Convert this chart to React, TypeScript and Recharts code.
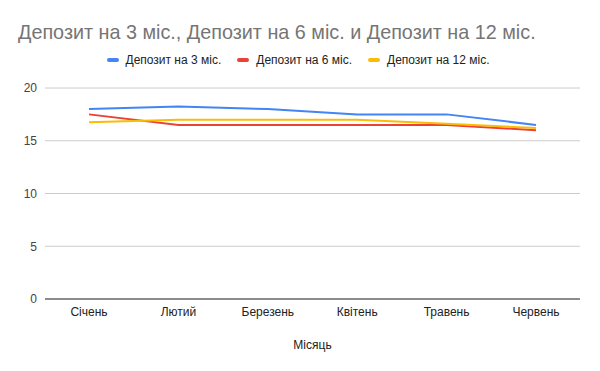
import React from "react";
import { LineChart, Line, XAxis, YAxis, CartesianGrid } from "recharts";

const months = ["Січень", "Лютий", "Березень", "Квітень", "Травень", "Червень"];
const dep3 = [18.0, 18.25, 18.0, 17.5, 17.5, 16.5];
const dep6 = [17.5, 16.5, 16.5, 16.5, 16.5, 16.0];
const dep12 = [16.75, 17.0, 17.0, 17.0, 16.6, 16.2];
const yTicks = [0, 5, 10, 15, 20];

const seriesNames = ["Депозит на 3 міс.", "Депозит на 6 міс.", "Депозит на 12 міс."];
const colors = ["#4285F4", "#EA4335", "#FBBC04"];
const keys = ["d3", "d6", "d12"];

const data = months.map((m, i) => ({ month: m, d3: dep3[i], d6: dep6[i], d12: dep12[i] }));

const FONT = "'Liberation Sans', Arial, sans-serif";

const LegendBox = () => (
  <div style={{ position: "absolute", top: 53, left: 0, width: 600, display: "flex", justifyContent: "center", alignItems: "center", fontFamily: FONT, fontSize: 12, color: "#222", paddingRight: 4, boxSizing: "border-box" }}>
    {seriesNames.map((n, i) => (
      <div key={n} style={{ display: "flex", alignItems: "center", marginRight: i < 2 ? 16 : 0 }}>
        <span style={{ display: "inline-block", width: 12, height: 4, borderRadius: 2, background: colors[i], marginRight: 7 }} />
        <span>{n}</span>
      </div>
    ))}
  </div>
);

export default function App() {
  return (
    <div style={{ position: "absolute", left: 0, top: 0, width: 600, height: 371, background: "#fff" }}>
      <div style={{ position: "absolute", left: 18, top: 21, fontFamily: FONT, fontSize: 19.8, color: "#757575", whiteSpace: "nowrap" }}>
        Депозит на 3 міс., Депозит на 6 міс. и Депозит на 12 міс.
      </div>
      <LegendBox />
      <div style={{ position: "absolute", left: 0, top: 0 }}>
        <LineChart width={600} height={371} data={data} margin={{ top: 88, right: 20, left: 0, bottom: 22 }}>
          <CartesianGrid vertical={false} stroke="#cccccc" />
          <XAxis
            dataKey="month"
            tickLine={false}
            axisLine={{ stroke: "#333" }}
            padding={{ left: 44, right: 44 }}
            tick={{ fontFamily: FONT, fontSize: 12, fill: "#222" }}
            height={50}
            label={{ value: "Місяць", position: "insideBottom", offset: 0, style: { fontFamily: FONT, fontSize: 12, fill: "#222" } }}
          />
          <YAxis
            domain={[0, 20]}
            ticks={yTicks}
            width={45}
            tickLine={false}
            axisLine={false}
            tick={{ fontFamily: FONT, fontSize: 12, fill: "#444" }}
          />
          {keys.map((k, i) => (
            <Line key={k} type="linear" dataKey={k} name={seriesNames[i]} stroke={colors[i]} strokeWidth={2} dot={false} isAnimationActive={false} />
          ))}
        </LineChart>
      </div>
    </div>
  );
}
